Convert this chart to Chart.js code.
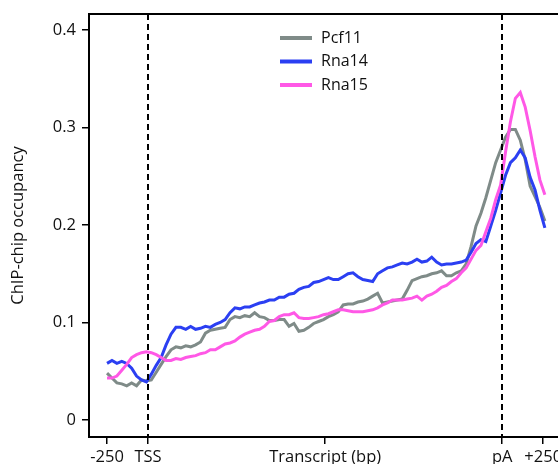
<!DOCTYPE html>
<html>
<head>
<meta charset="utf-8">
<script src="https://cdn.jsdelivr.net/npm/chart.js@4"></script>
<style>
  html, body { margin: 0; padding: 0; background: #fff; overflow: hidden; }
  #wrap { width: 558px; height: 464px; }
</style>
</head>
<body>
<div id="wrap"><canvas id="chart" width="558" height="464"></canvas></div>
<script>
// position along the metagene (bp-like units): TSS = 0, pA = 2160
const positions = [
  -250, -220, -190, -160, -130, -100, -70, -40, -10, 20,
  50, 80, 110, 140, 170, 200, 230, 260, 290, 320,
  350, 380, 410, 440, 470, 500, 530, 560, 590, 620,
  650, 680, 710, 740, 770, 800, 830, 860, 890, 920,
  950, 980, 1010, 1040, 1070, 1100, 1130, 1160, 1190, 1220,
  1250, 1280, 1310, 1340, 1370, 1400, 1430, 1460, 1490, 1520,
  1550, 1580, 1610, 1640, 1670, 1700, 1730, 1760, 1790, 1820,
  1850, 1880, 1910, 1940, 1970, 2000, 2030, 2060, 2090, 2120,
  2150, 2180, 2210, 2240, 2270, 2300, 2330, 2360, 2390, 2420
];

const pcf11 = [
  0.048, 0.043, 0.038, 0.037, 0.035, 0.038, 0.035, 0.041, 0.040, 0.041,
  0.049, 0.057, 0.065, 0.072, 0.075, 0.074, 0.076, 0.075, 0.077, 0.080,
  0.089, 0.092, 0.093, 0.094, 0.095, 0.103, 0.106, 0.105, 0.107, 0.106,
  0.110, 0.106, 0.105, 0.102, 0.102, 0.103, 0.103, 0.096, 0.099, 0.091,
  0.092, 0.095, 0.099, 0.101, 0.103, 0.106, 0.108, 0.111, 0.118, 0.119,
  0.119, 0.121, 0.122, 0.124, 0.127, 0.130, 0.120, 0.121, 0.122, 0.123,
  0.124, 0.133, 0.143, 0.145, 0.147, 0.148, 0.150, 0.151, 0.153, 0.148,
  0.148, 0.151, 0.153, 0.160, 0.178, 0.199, 0.212, 0.228, 0.246, 0.264,
  0.277, 0.290, 0.298, 0.298, 0.287, 0.267, 0.240, 0.229, 0.218, 0.204
];

const rna14 = [
  0.058, 0.061, 0.058, 0.060, 0.058, 0.053, 0.045, 0.041, 0.039, 0.047,
  0.056, 0.064, 0.077, 0.088, 0.095, 0.095, 0.093, 0.096, 0.093, 0.094,
  0.096, 0.095, 0.098, 0.100, 0.103, 0.110, 0.115, 0.114, 0.116, 0.116,
  0.118, 0.120, 0.121, 0.123, 0.123, 0.126, 0.126, 0.129, 0.130, 0.134,
  0.136, 0.137, 0.141, 0.142, 0.144, 0.146, 0.144, 0.144, 0.147, 0.150,
  0.151, 0.147, 0.144, 0.143, 0.142, 0.150, 0.153, 0.156, 0.157, 0.159,
  0.161, 0.160, 0.162, 0.165, 0.162, 0.163, 0.167, 0.162, 0.159, 0.160,
  0.160, 0.161, 0.162, 0.164, 0.172, 0.181, 0.185, 0.183, 0.199, 0.215,
  0.233, 0.251, 0.264, 0.269, 0.277, 0.269, 0.249, 0.236, 0.215, 0.197
];

const rna15 = [
  0.043, 0.043, 0.045, 0.051, 0.057, 0.064, 0.067, 0.069, 0.070, 0.069,
  0.067, 0.064, 0.061, 0.061, 0.063, 0.062, 0.064, 0.065, 0.066, 0.068,
  0.069, 0.072, 0.072, 0.075, 0.078, 0.079, 0.081, 0.085, 0.088, 0.090,
  0.092, 0.093, 0.096, 0.101, 0.102, 0.106, 0.108, 0.108, 0.110, 0.105,
  0.104, 0.104, 0.105, 0.106, 0.108, 0.109, 0.111, 0.113, 0.113, 0.112,
  0.111, 0.111, 0.111, 0.112, 0.113, 0.115, 0.118, 0.120, 0.123, 0.123,
  0.123, 0.124, 0.125, 0.127, 0.123, 0.127, 0.129, 0.132, 0.136, 0.138,
  0.142, 0.145, 0.151, 0.156, 0.165, 0.174, 0.179, 0.193, 0.207, 0.226,
  0.241, 0.275, 0.306, 0.330, 0.336, 0.321, 0.297, 0.270, 0.246, 0.231
];

const xTickValues = [-250, 0, 1080, 2160, 2410];
const xTickLabels = ['-250', 'TSS', 'Transcript (bp)', 'pA', '+250'];
const yTickValues = [0, 0.1, 0.2, 0.3, 0.4];
const markerPositions = [0, 2160]; // TSS, pA

const FONT = '"Open Sans", "Noto Sans", sans-serif';
const FONT_SIZE = 16.5;

function toPoints(values) {
  return values.map((v, i) => ({ x: positions[i], y: v }));
}

const series = [
  { label: 'Pcf11', data: pcf11, color: '#7f8b88', order: 2 },
  { label: 'Rna14', data: rna14, color: '#2b3ff2', order: 1 },
  { label: 'Rna15', data: rna15, color: '#ff58e6', order: 0 }
];

// top edge of the frame, dashed TSS / pA markers and the inline legend
const framePlugin = {
  id: 'frame',
  afterDatasetsDraw(chart) {
    const { ctx, chartArea, scales } = chart;
    ctx.save();
    ctx.strokeStyle = '#000';
    ctx.lineWidth = 2;
    ctx.beginPath();
    ctx.moveTo(chartArea.left - 1, chartArea.top);
    ctx.lineTo(chartArea.right, chartArea.top);
    ctx.stroke();

    ctx.setLineDash([6, 4]);
    markerPositions.forEach((pos) => {
      const x = Math.round(scales.x.getPixelForValue(pos));
      ctx.beginPath();
      ctx.moveTo(x, chartArea.top);
      ctx.lineTo(x, chartArea.bottom);
      ctx.stroke();
    });
    ctx.setLineDash([]);

    ctx.font = '16px ' + FONT;
    ctx.textBaseline = 'middle';
    ctx.textAlign = 'left';
    chart.data.datasets.forEach((ds, i) => {
      const y = 38 + i * 23.5;
      ctx.strokeStyle = ds.borderColor;
      ctx.lineWidth = 4;
      ctx.beginPath();
      ctx.moveTo(280, y);
      ctx.lineTo(312, y);
      ctx.stroke();
      ctx.fillStyle = '#111';
      ctx.fillText(ds.label, 321, y);
    });
    ctx.restore();
  }
};

new Chart(document.getElementById('chart'), {
  type: 'line',
  data: {
    datasets: series.map((s) => ({
      label: s.label,
      data: toPoints(s.data),
      borderColor: s.color,
      backgroundColor: s.color,
      borderWidth: 3,
      pointRadius: 0,
      tension: 0,
      order: s.order
    }))
  },
  options: {
    responsive: false,
    animation: false,
    devicePixelRatio: 1,
    layout: { padding: { top: 14, right: 0, left: 0, bottom: 0 } },
    plugins: {
      legend: { display: false },
      tooltip: { enabled: false }
    },
    scales: {
      x: {
        type: 'linear',
        min: -360,
        max: 2500,
        afterBuildTicks: (scale) => { scale.ticks = xTickValues.map((v) => ({ value: v })); },
        afterFit: (scale) => { scale.height = 27; scale.paddingLeft = 0; scale.paddingRight = 0; },
        ticks: {
          autoSkip: false,
          maxRotation: 0,
          padding: 3,
          color: '#111',
          font: { family: FONT, size: FONT_SIZE },
          callback: (value) => xTickLabels[xTickValues.indexOf(value)]
        },
        grid: { drawOnChartArea: false, drawTicks: true, tickLength: 7, color: '#000', lineWidth: 1.5 },
        border: { display: true, color: '#000', width: 2 }
      },
      y: {
        min: -0.0175,
        max: 0.4165,
        afterBuildTicks: (scale) => { scale.ticks = yTickValues.map((v) => ({ value: v })); },
        afterFit: (scale) => { scale.width = 89; scale.paddingTop = 0; scale.paddingBottom = 0; },
        ticks: {
          padding: 6,
          color: '#111',
          font: { family: FONT, size: FONT_SIZE },
          callback: (value) => (value === 0 ? '0' : value.toFixed(1))
        },
        grid: { drawOnChartArea: false, drawTicks: true, tickLength: 7, color: '#000', lineWidth: 1.5 },
        border: { display: true, color: '#000', width: 2 },
        title: {
          display: true,
          text: 'ChIP-chip occupancy',
          color: '#111',
          font: { family: FONT, size: FONT_SIZE },
          padding: { top: 8, bottom: 0 }
        }
      }
    }
  },
  plugins: [framePlugin]
});
</script>
</body>
</html>
